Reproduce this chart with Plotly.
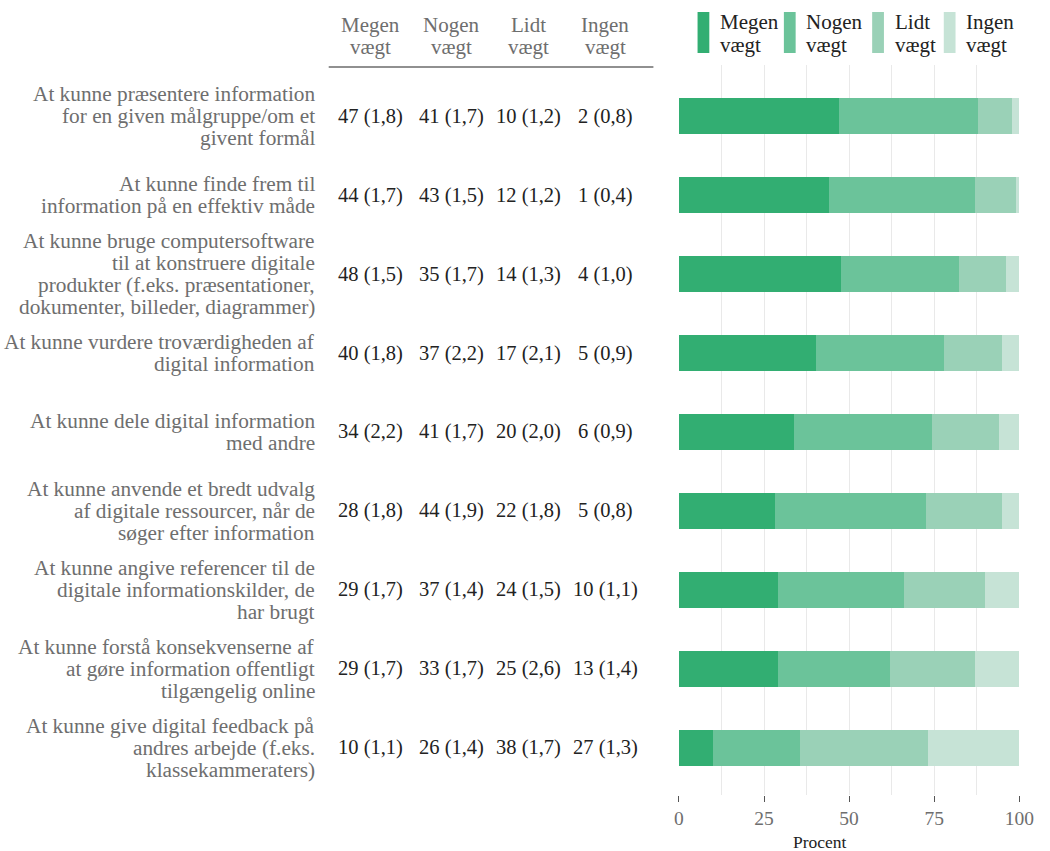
import plotly.graph_objects as go

FONT = "Liberation Serif"
W, H = 1050, 851

items = [
    "At kunne præsentere information<br>for en given målgruppe/om et<br>givent formål",
    "At kunne finde frem til<br>information på en effektiv måde",
    "At kunne bruge computersoftware<br>til at konstruere digitale<br>produkter (f.eks. præsentationer,<br>dokumenter, billeder, diagrammer)",
    "At kunne vurdere troværdigheden af<br>digital information",
    "At kunne dele digital information<br>med andre",
    "At kunne anvende et bredt udvalg<br>af digitale ressourcer, når de<br>søger efter information",
    "At kunne angive referencer til de<br>digitale informationskilder, de<br>har brugt",
    "At kunne forstå konsekvenserne af<br>at gøre information offentligt<br>tilgængelig online",
    "At kunne give digital feedback på<br>andres arbejde (f.eks.<br>klassekammeraters)",
]

categories = ["Megen vægt", "Nogen vægt", "Lidt vægt", "Ingen vægt"]

megen = [47, 44, 48, 40, 34, 28, 29, 29, 10]
nogen = [41, 43, 35, 37, 41, 44, 37, 33, 26]
lidt = [10, 12, 14, 17, 20, 22, 24, 25, 38]
ingen = [2, 1, 4, 5, 6, 5, 10, 13, 27]

megen_se = ["1,8", "1,7", "1,5", "1,8", "2,2", "1,8", "1,7", "1,7", "1,1"]
nogen_se = ["1,7", "1,5", "1,7", "2,2", "1,7", "1,9", "1,4", "1,7", "1,4"]
lidt_se = ["1,2", "1,2", "1,3", "2,1", "2,0", "1,8", "1,5", "2,6", "1,7"]
ingen_se = ["0,8", "0,4", "1,0", "0,9", "0,9", "0,8", "1,1", "1,4", "1,3"]

colors = ["#32ae72", "#6bc39a", "#9ad1b7", "#c6e3d6"]

series = [megen, nogen, lidt, ingen]
ses = [megen_se, nogen_se, lidt_se, ingen_se]
rows = list(range(len(items)))
totals = [sum(s[i] for s in series) for i in rows]


def px(x):
    return x / W


def py(y):
    return 1 - y / H


fig = go.Figure()
for name, vals, col in zip(categories, series, colors):
    fig.add_trace(go.Bar(
        y=rows, x=[v / t * 100 for v, t in zip(vals, totals)], name=name,
        orientation="h", marker=dict(color=col, line=dict(width=0)), width=0.46,
        showlegend=False, customdata=vals, hovertemplate="%{customdata}<extra></extra>",
    ))

anns = []
LH = 22


def multiline(text, x, y, yref, xanchor, size, color, lh=LH):
    lines = text.split("<br>")
    n = len(lines)
    for k, ln in enumerate(lines):
        anns.append(dict(x=x, y=y, xref="paper", yref=yref, text=ln,
                         showarrow=False, xanchor=xanchor, yanchor="middle",
                         yshift=-(k - (n - 1) / 2) * lh,
                         font=dict(family=FONT, size=size, color=color)))


# item labels
for i, lab in enumerate(items):
    multiline(lab, px(318), i, "y", "right", 21.3, "#6e6e6e")

# table
col_x = [373, 455, 534, 612]
for cx, cat, vals, se in zip(col_x, categories, series, ses):
    multiline(cat.replace(" ", "<br>"), px(cx), py(36), "paper", "center", 21, "#6e6e6e")
    for i in rows:
        anns.append(dict(x=px(cx), y=i, xref="paper", yref="y",
                         text=f"{vals[i]} ({se[i]})", showarrow=False, yanchor="middle",
                         font=dict(family=FONT, size=20.5, color="#222222")))

shapes = [dict(type="line", xref="paper", yref="paper", x0=px(330), x1=px(661),
               y0=py(67), y1=py(67), line=dict(color="#222222", width=1.2))]

# legend
leg_x = [706, 794, 884, 957]
for lx, cat, col in zip(leg_x, categories, colors):
    shapes.append(dict(type="rect", xref="paper", yref="paper",
                       x0=px(lx), x1=px(lx + 12), y0=py(53), y1=py(12),
                       fillcolor=col, line=dict(width=0)))
    multiline(cat.replace(" ", "<br>"), px(lx + 21), py(33), "paper", "left", 21, "#222222", 23)

# axis title
anns.append(dict(x=px(860), y=py(842), xref="paper", yref="paper", text="Procent",
                 showarrow=False, yanchor="middle",
                 font=dict(family=FONT, size=17.5, color="#222222")))

# start smaller than the window (body margin is 8px), then grow to full size
fig.update_layout(
    width=W - 16, height=H - 16, barmode="stack", autosize=False,
    margin=dict(l=0, r=0, t=0, b=0),
    paper_bgcolor="white", plot_bgcolor="white",
    font=dict(family=FONT),
    xaxis=dict(domain=[px(687), px(1034)], range=[0, 100], tickvals=[0, 25, 50, 75, 100],
               showgrid=True, gridcolor="#e9e9e9", gridwidth=1.3,
               minor=dict(dtick=12.5, showgrid=True, gridcolor="#e9e9e9", gridwidth=1.3),
               ticks="outside", ticklen=6, tickcolor="#555555", tickwidth=1.3,
               tickfont=dict(family=FONT, size=19.5, color="#6e6e6e"),
               ticklabeloverflow="allow",
               zeroline=False, showline=False),
    yaxis=dict(domain=[py(795), py(65)], range=[8.6, -0.65], showticklabels=False,
               showgrid=False, zeroline=False, ticks=""),
    annotations=anns, shapes=shapes,
)

post = (
    "document.documentElement.style.overflow='hidden';"
    "document.body.style.overflow='hidden';"
    "document.body.style.margin='0';"
    "var gd=document.getElementById('{plot_id}');"
    "gd.style.width='%dpx';gd.style.height='%dpx';"
    "Plotly.relayout(gd,{width:%d,height:%d});" % (W, H, W, H)
)

fig.write_html(
    "out.html",
    config={"displayModeBar": False, "responsive": False},
    post_script=post,
)
